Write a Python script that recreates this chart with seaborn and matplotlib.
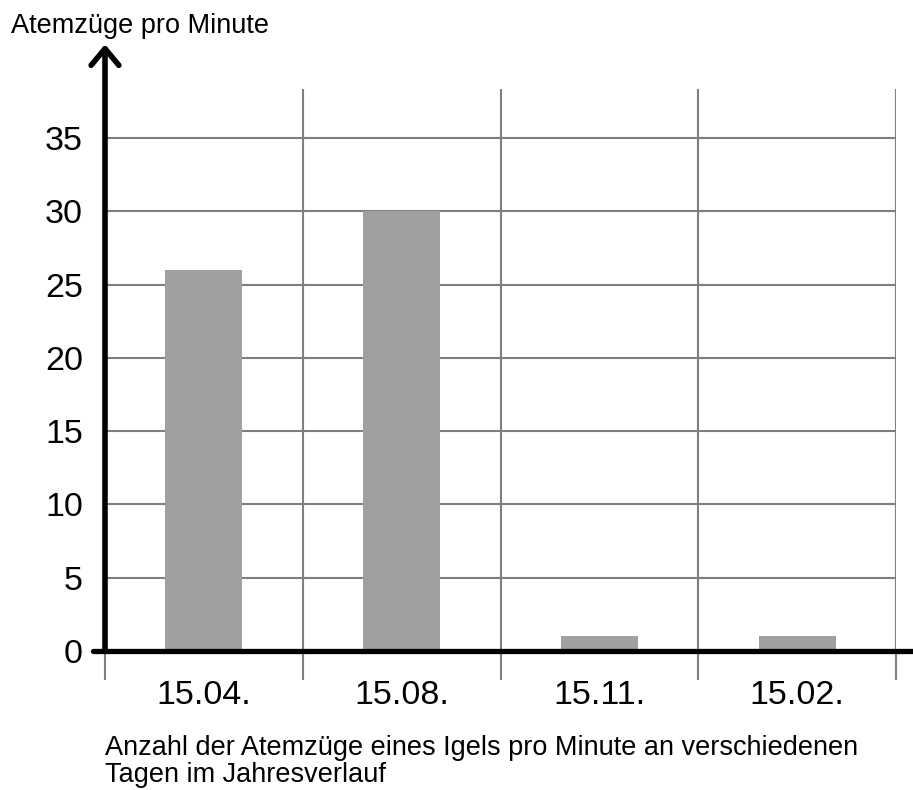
import numpy as np
import pandas as pd
import seaborn as sns
import matplotlib.pyplot as plt
from matplotlib.ticker import FixedLocator

# data
dates = ["15.04.", "15.08.", "15.11.", "15.02."]
breaths = [26, 30, 1, 1]
y_ticks = [0, 5, 10, 15, 20, 25, 30, 35]

sns.set_theme(style="white")
plt.rcParams["font.family"] = ["Liberation Sans", "DejaVu Sans"]
plt.rcParams["text.color"] = "black"

df = pd.DataFrame({"Datum": dates, "Atemzuege": breaths})

fig = plt.figure(figsize=(9.13, 7.90), dpi=100)
ax = fig.add_axes([105 / 913, 1 - 651 / 790, 791 / 913, 562 / 790])

sns.barplot(data=df, x="Datum", y="Atemzuege", color="#a0a0a0", saturation=1,
            width=0.39, edgecolor="none", linewidth=0, ax=ax)

ax.set_xlim(-0.5, 3.5)
ax.set_ylim(0, 38.35)
ax.set_axisbelow(True)
for s in ax.spines.values():
    s.set_visible(False)

grid_col = "#7f7f7f"
ax.yaxis.set_major_locator(FixedLocator(y_ticks))
ax.grid(axis="y", which="major", color=grid_col, lw=1.5)
ax.xaxis.set_minor_locator(FixedLocator(np.arange(-0.5, 4, 1)))
ax.grid(axis="x", which="minor", color=grid_col, lw=1.5)
ax.grid(axis="x", which="major", visible=False)
ax.tick_params(axis="x", which="minor", bottom=True, length=21, width=1.5,
               color=grid_col, direction="out")
ax.tick_params(axis="x", which="major", bottom=True, length=0, labelsize=24.5,
               pad=21, labelcolor="black")
ax.tick_params(axis="y", left=True, length=0, labelsize=24.5, pad=16, labelcolor="black")
ax.set_xlabel("")
ax.set_ylabel("")

# axes drawn like the original: thick x line and y arrow
ax.axhline(0, xmin=-0.015, xmax=1.03, color="black", lw=3.8, clip_on=False, zorder=5)
ax.annotate("", xy=(-0.5, 41.4), xytext=(-0.5, 0), xycoords="data",
            arrowprops=dict(arrowstyle="->,head_length=0.6,head_width=0.5",
                            mutation_scale=20, lw=4, color="black",
                            shrinkA=0, shrinkB=0),
            annotation_clip=False, zorder=6)

fig.text(11 / 913, 1 - 33 / 790, "Atemzüge pro Minute", fontsize=19.5,
         va="baseline", ha="left")
fig.text(105 / 913, 1 - 755 / 790,
         "Anzahl der Atemzüge eines Igels pro Minute an verschiedenen",
         fontsize=19.5, va="baseline", ha="left")
fig.text(105 / 913, 1 - 782 / 790, "Tagen im Jahresverlauf",
         fontsize=19.5, va="baseline", ha="left")

fig.savefig("out.png", dpi=100)
